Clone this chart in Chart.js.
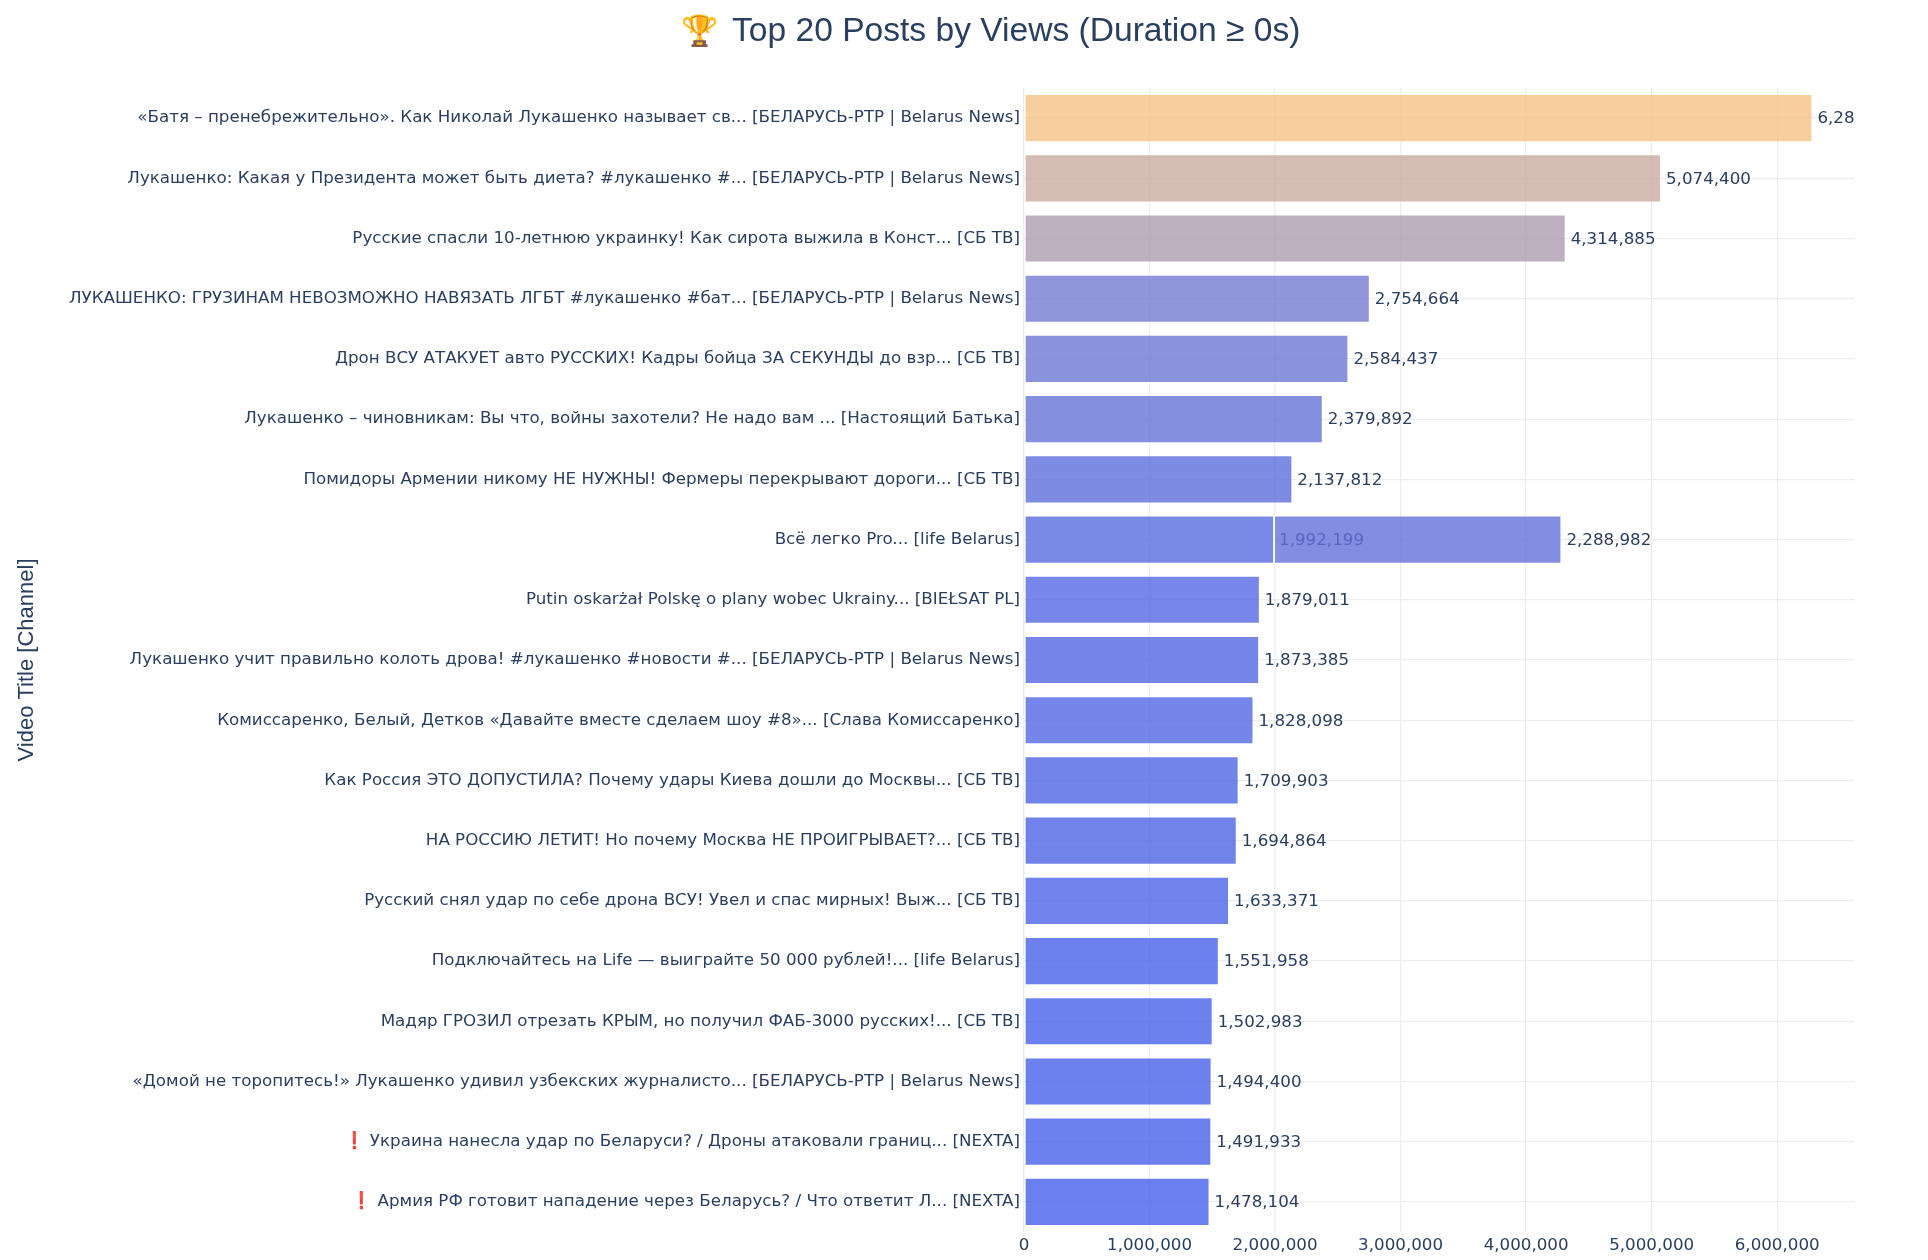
<!DOCTYPE html>
<html>
<head>
<meta charset="utf-8">
<script src="https://cdn.jsdelivr.net/npm/chart.js@4.4.1/dist/chart.umd.min.js"></script>
<style>
  html, body { margin: 0; padding: 0; background: #ffffff; }
  #wrap { width: 1928px; height: 1260px; position: relative; }
</style>
</head>
<body>
<div id="wrap"><canvas id="c" width="1928" height="1260"></canvas></div>
<script>
// ---------------- DATA (20 posts, descending by views) ----------------
const titles = [
  "«Батя – пренебрежительно». Как Николай Лукашенко называет св...",
  "Лукашенко: Какая у Президента может быть диета? #лукашенко #...",
  "Русские спасли 10-летнюю украинку! Как сирота выжила в Конст...",
  "ЛУКАШЕНКО: ГРУЗИНАМ НЕВОЗМОЖНО НАВЯЗАТЬ ЛГБТ #лукашенко #бат...",
  "Дрон ВСУ АТАКУЕТ авто РУССКИХ! Кадры бойца ЗА СЕКУНДЫ до взр...",
  "Лукашенко – чиновникам: Вы что, войны захотели? Не надо вам ...",
  "Всё легко Pro...",
  "Помидоры Армении никому НЕ НУЖНЫ! Фермеры перекрывают дороги...",
  "Всё легко Pro...",
  "Putin oskarżał Polskę o plany wobec Ukrainy...",
  "Лукашенко учит правильно колоть дрова! #лукашенко #новости #...",
  "Комиссаренко, Белый, Детков «Давайте вместе сделаем шоу #8»...",
  "Как Россия ЭТО ДОПУСТИЛА? Почему удары Киева дошли до Москвы...",
  "НА РОССИЮ ЛЕТИТ! Но почему Москва НЕ ПРОИГРЫВАЕТ?...",
  "Русский снял удар по себе дрона ВСУ! Увел и спас мирных! Выж...",
  "Подключайтесь на Life — выиграйте 50 000 рублей!...",
  "Мадяр ГРОЗИЛ отрезать КРЫМ, но получил ФАБ-3000 русских!...",
  "«Домой не торопитесь!» Лукашенко удивил узбекских журналисто...",
  "❗️ Украина нанесла удар по Беларуси? / Дроны атаковали границ...",
  "❗️ Армия РФ готовит нападение через Беларусь? / Что ответит Л..."
];
const channels = [
  "БЕЛАРУСЬ-РТР | Belarus News",
  "БЕЛАРУСЬ-РТР | Belarus News",
  "СБ ТВ",
  "БЕЛАРУСЬ-РТР | Belarus News",
  "СБ ТВ",
  "Настоящий Батька",
  "life Belarus",
  "СБ ТВ",
  "life Belarus",
  "BIEŁSAT PL",
  "БЕЛАРУСЬ-РТР | Belarus News",
  "Слава Комиссаренко",
  "СБ ТВ",
  "СБ ТВ",
  "СБ ТВ",
  "life Belarus",
  "СБ ТВ",
  "БЕЛАРУСЬ-РТР | Belarus News",
  "NEXTA",
  "NEXTA"
];
const views = [
  6281000, 5074400, 4314885, 2754664, 2584437, 2379892, 2288982, 2137812,
  1992199, 1879011, 1873385, 1828098, 1709903, 1694864, 1633371, 1551958,
  1502983, 1494400, 1491933, 1478104
];
const xTickValues = [0, 1000000, 2000000, 3000000, 4000000, 5000000, 6000000];
const xMax = 6612000;
const chartTitle = "Top 20 Posts by Views (Duration ≥ 0s)";
const titleIcon = "🏆";
const yAxisTitle = "Video Title [Channel]";

// ---------------- BUILD CATEGORIES / STACK LAYERS ----------------
const fullLabels = titles.map((t, i) => t + " [" + channels[i] + "]");
const ascending = views.map((v, i) => i).sort((a, b) => views[a] - views[b]);
const catBottomUp = [];
const occ = {};
const entries = [];
ascending.forEach(i => {
  const lab = fullLabels[i];
  if (!catBottomUp.includes(lab)) catBottomUp.push(lab);
  occ[lab] = (occ[lab] || 0);
  entries.push({ label: lab, value: views[i], layer: occ[lab] });
  occ[lab] += 1;
});
const categories = catBottomUp.slice().reverse(); // top-to-bottom
const nLayers = Math.max(...Object.values(occ));

const vMin = Math.min(...views), vMax = Math.max(...views);
const cLow = [70, 96, 234], cHigh = [245, 195, 135];
function colorFor(v) {
  const t = (v - vMin) / (vMax - vMin);
  const c = cLow.map((lo, k) => Math.round(lo + (cHigh[k] - lo) * t));
  return "rgba(" + c[0] + "," + c[1] + "," + c[2] + ",0.8)";
}

const datasets = [];
for (let L = 0; L < nLayers; L++) {
  const data = categories.map(cat => {
    const e = entries.find(en => en.label === cat && en.layer === L);
    return e ? e.value : null;
  });
  datasets.push({
    label: "layer" + L,
    data: data,
    backgroundColor: data.map(v => v == null ? "rgba(0,0,0,0)" : colorFor(v)),
    borderColor: "rgba(255,255,255,0.6)",
    borderWidth: 1,
    borderSkipped: false,
    barPercentage: 0.8,
    categoryPercentage: 1.0
  });
}

function fmt(n) { return String(Math.round(n)).replace(/\B(?=(\d{3})+(?!\d))/g, ","); }

const TEXT = "#2a3f5f";
const GRID = "#ededed";
const TICK_FONT = 'Verdana, "DejaVu Sans", sans-serif';
const TITLE_FONT = 'Arial, "Liberation Sans", sans-serif';
const TICK_SIZE = 16.7;

const valueLabels = {
  id: "valueLabels",
  beforeDatasetsDraw(chart) {
    const ctx = chart.ctx, a = chart.chartArea;
    ctx.save();
    ctx.beginPath();
    ctx.rect(a.left, a.top, a.right - a.left, a.bottom - a.top);
    ctx.clip();
    ctx.font = TICK_SIZE + "px " + TICK_FONT;
    ctx.fillStyle = TEXT;
    ctx.textAlign = "left";
    ctx.textBaseline = "middle";
    chart.data.datasets.forEach((ds, di) => {
      const meta = chart.getDatasetMeta(di);
      meta.data.forEach((bar, j) => {
        const v = ds.data[j];
        if (v == null) return;
        ctx.fillText(fmt(v), bar.x + 5, bar.y + 1);
      });
    });
    ctx.restore();
  }
};

const titlePlugin = {
  id: "titlePlugin",
  afterDraw(chart) {
    const ctx = chart.ctx;
    ctx.save();
    ctx.textBaseline = "middle";
    ctx.fillStyle = TEXT;
    ctx.textAlign = "center";
    ctx.font = '30px "Noto Color Emoji", "Apple Color Emoji", "Segoe UI Emoji", sans-serif';
    ctx.fillText(titleIcon, 700, 32);
    ctx.textAlign = "left";
    ctx.font = "33.6px " + TITLE_FONT;
    ctx.fillText(chartTitle, 732, 32);
    ctx.restore();
  }
};

new Chart(document.getElementById("c"), {
  type: "bar",
  data: { labels: categories, datasets: datasets },
  options: {
    indexAxis: "y",
    responsive: false,
    animation: false,
    devicePixelRatio: 1,
    layout: { padding: { top: 88, right: 74, bottom: 0, left: 0 } },
    plugins: { legend: { display: false }, tooltip: { enabled: false }, title: { display: false } },
    scales: {
      x: {
        type: "linear",
        stacked: true,
        min: 0,
        max: xMax,
        afterBuildTicks: s => { s.ticks = xTickValues.map(v => ({ value: v })); },
        afterFit: s => { s.height = 28; },
        grid: { color: GRID, lineWidth: 1.3, drawTicks: false },
        border: { display: false },
        ticks: {
          padding: 4, color: TEXT, autoSkip: false, maxRotation: 0,
          font: { family: TICK_FONT, size: TICK_SIZE },
          callback: v => fmt(v)
        }
      },
      y: {
        type: "category",
        stacked: true,
        offset: true,
        afterFit: s => { s.width = 1024; },
        grid: { color: GRID, lineWidth: 1.3, drawTicks: false, offset: false },
        border: { display: false },
        ticks: {
          padding: 4, color: TEXT, autoSkip: false,
          font: { family: TICK_FONT, size: TICK_SIZE }
        },
        title: {
          display: true, text: yAxisTitle, color: TEXT,
          font: { family: TITLE_FONT, size: 22 },
          padding: { top: 14, bottom: 0 }
        }
      }
    }
  },
  plugins: [valueLabels, titlePlugin]
});
</script>
</body>
</html>
